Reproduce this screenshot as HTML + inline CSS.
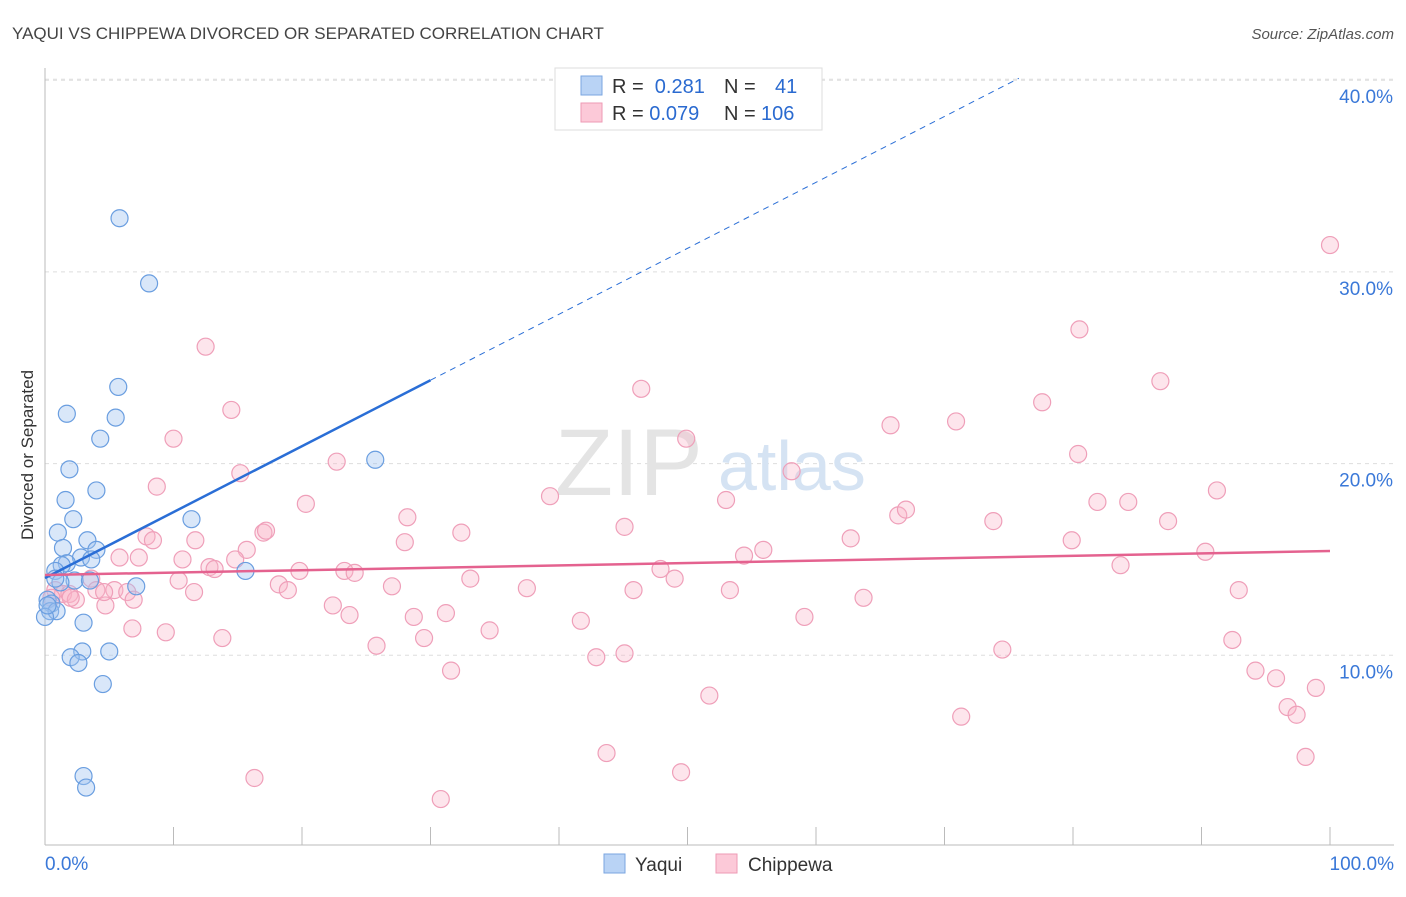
<!DOCTYPE html>
<html><head><meta charset="utf-8"><style>
body{margin:0;background:#fff;font-family:"Liberation Sans",sans-serif}
svg text{font-family:"Liberation Sans",sans-serif}
</style></head><body>
<svg id="c" width="1406" height="892">
<text x="12" y="39" font-size="17" fill="#444">YAQUI VS CHIPPEWA DIVORCED OR SEPARATED CORRELATION CHART</text>
<text x="1394" y="39" font-size="15" fill="#555" text-anchor="end" font-style="italic">Source: ZipAtlas.com</text>
<text transform="translate(33,455) rotate(-90)" font-size="17" fill="#333" text-anchor="middle">Divorced or Separated</text>
<g id="grid"></g>
<g id="axes"></g>
<text x="555" y="495" font-size="95" fill="#e4e4e4" font-family="Liberation Serif">ZIP</text>
<text x="718" y="490" font-size="70" fill="#d5e3f3">atlas</text>
<g id="pink"></g>
<g id="blue"></g>
<g id="lines"></g>
<g>
<rect x="555" y="68" width="267" height="62" fill="#fff" stroke="#ddd"/>
<rect x="581" y="76" width="21" height="19" fill="#b9d3f5" stroke="#7aa6e0"/>
<rect x="581" y="103" width="21" height="19" fill="#fcc9d8" stroke="#ee9ab4"/>
<text x="612" y="93" font-size="20" fill="#333">R = <tspan fill="#2a6ad0">&#160;0.281</tspan><tspan x="724">N = </tspan><tspan x="775" fill="#2a6ad0">41</tspan></text>
<text x="612" y="120" font-size="20" fill="#333">R = <tspan fill="#2a6ad0">0.079</tspan><tspan x="724">N = </tspan><tspan x="761" fill="#2a6ad0">106</tspan></text>
</g>
<g>
<rect x="604" y="854" width="21" height="19" fill="#b9d3f5" stroke="#7aa6e0"/>
<text x="635" y="871" font-size="19" fill="#333">Yaqui</text>
<rect x="716" y="854" width="21" height="19" fill="#fcc9d8" stroke="#ee9ab4"/>
<text x="748" y="871" font-size="19" fill="#333">Chippewa</text>
</g>
</svg>
<script>
const yTicks=[10,20,30,40];
const xTickLabels=["0.0%","100.0%"];
const yaquiX=[5.8,8.1,5.7,5.5,1.7,4.3,1.9,4.0,1.6,2.2,11.4,1.0,3.3,1.4,4.0,2.8,1.7,3.6,1.3,0.8,15.6,7.1,2.3,3.5,1.2,0.2,0.5,0.4,0.9,0.0,3.0,2.9,5.0,2.0,2.6,4.5,3.0,3.2,25.7,0.8,0.2];
const yaquiY=[32.8,29.4,24.0,22.4,22.6,21.3,19.7,18.6,18.1,17.1,17.1,16.4,16.0,15.6,15.5,15.1,14.8,15.0,14.7,14.4,14.4,13.6,13.9,13.9,13.8,12.9,12.7,12.3,12.3,12.0,11.7,10.2,10.2,9.9,9.6,8.5,3.7,3.1,20.2,14.0,12.6];
const chipX=[100,80.5,12.5,46.4,86.8,14.5,77.6,10.0,49.9,65.8,70.9,80.4,22.7,58.1,15.2,39.3,53.0,84.3,91.2,8.7,81.9,20.3,28.2,66.4,67.0,73.8,87.4,7.9,8.4,17.0,17.2,32.4,45.1,11.7,62.7,28.0,15.7,10.7,5.8,7.3,54.4,55.9,90.3,79.9,14.8,83.7,12.8,13.2,19.8,23.3,24.1,47.9,3.6,10.4,18.2,18.9,27.0,33.1,37.5,49.0,4.0,5.4,6.4,45.8,53.3,63.7,92.9,11.6,0.8,1.4,0.5,1.9,4.7,22.4,23.7,31.2,41.7,59.1,6.8,28.7,9.4,13.8,29.5,34.6,92.4,25.8,74.5,42.9,45.1,31.6,94.2,95.8,98.9,51.7,96.7,97.4,71.3,43.7,98.1,16.3,49.5,30.8,4.6,2.4,6.9,2.0];
const chipY=[31.4,27.0,26.1,23.9,24.3,22.8,23.2,21.3,21.3,22.0,22.2,20.5,20.1,19.6,19.5,18.3,18.1,18.0,18.6,18.8,18.0,17.9,17.2,17.3,17.6,17.0,17.0,16.2,16.0,16.4,16.5,16.4,16.7,16.0,16.1,15.9,15.5,15.0,15.1,15.1,15.2,15.5,15.4,16.0,15.0,14.7,14.6,14.5,14.4,14.4,14.3,14.5,14.0,13.9,13.7,13.4,13.6,14.0,13.5,14.0,13.4,13.4,13.3,13.4,13.4,13.0,13.4,13.3,13.4,13.2,13.0,13.2,12.6,12.6,12.1,12.2,11.8,12.0,11.4,12.0,11.2,10.9,10.9,11.3,10.8,10.5,10.3,9.9,10.1,9.2,9.2,8.8,8.3,7.9,7.3,6.9,6.8,4.9,4.7,3.6,3.9,2.5,13.3,12.9,12.9,13.0];
const trendYaqui=[14.03,0.344];
const trendChip=[14.19,0.0125];
const X=v=>45+v*12.85, Y=v=>847-v*19.17;
const NS="http://www.w3.org/2000/svg";
function mk(t,a,p){const e=document.createElementNS(NS,t);for(const k in a)e.setAttribute(k,a[k]);p.appendChild(e);return e;}
const grid=document.getElementById('grid'),axes=document.getElementById('axes');
mk('line',{x1:45,y1:Y(40)-1,x2:1394,y2:Y(40)-1,stroke:'#ddd','stroke-dasharray':'4,4'},grid);
yTicks.forEach(t=>{
 const l=mk('line',{x1:45,y1:Y(t),x2:1394,y2:Y(t),stroke:'#ddd','stroke-dasharray':'4,4'},grid);
 
 
 const tx=mk('text',{x:1393,y:Y(t)+23,'font-size':19,fill:'#3a78d8','text-anchor':'end'},axes);
 tx.textContent=t.toFixed(1)+'%';
 
 
});
mk('line',{x1:45,y1:68,x2:45,y2:845,stroke:'#bbb'},axes);
mk('line',{x1:45,y1:845,x2:1394,y2:845,stroke:'#bbb'},axes);
for(let i=0;i<=10;i++){const t=mk('line',{x1:X(i*10),y1:827,x2:X(i*10),y2:845,stroke:'#bbb'},axes);
 
 }
const t0=mk('text',{x:45,y:870,'font-size':19,fill:'#3a78d8'},axes);t0.textContent=xTickLabels[0];


const t1=mk('text',{x:1394,y:870,'font-size':19,fill:'#3a78d8','text-anchor':'end'},axes);t1.textContent=xTickLabels[1];


const pg=document.getElementById('pink');
chipX.forEach((x,i)=>{const c=mk('circle',{cx:X(x),cy:Y(chipY[i]),r:8.5,fill:'rgba(248,180,200,0.35)',stroke:'#ef9fb9','stroke-width':1.2},pg);
 
 });
const bg=document.getElementById('blue');
yaquiX.forEach((x,i)=>{const c=mk('circle',{cx:X(x),cy:Y(yaquiY[i]),r:8.5,fill:'rgba(160,196,240,0.4)',stroke:'#6a9ee0','stroke-width':1.2},bg);
 
 });
const lg=document.getElementById('lines');
const f=(t,x)=>t[0]+t[1]*x;
const l1=mk('line',{x1:X(0),y1:Y(f(trendYaqui,0)),x2:X(30),y2:Y(f(trendYaqui,30)),stroke:'#2a6ed6','stroke-width':2.5},lg);


const xe=(40.1-trendYaqui[0])/trendYaqui[1];
const l2=mk('line',{x1:X(30),y1:Y(f(trendYaqui,30)),x2:X(xe),y2:Y(f(trendYaqui,xe)),stroke:'#2a6ed6','stroke-width':1,'stroke-dasharray':'6,5'},lg);


const l3=mk('line',{x1:X(0),y1:Y(f(trendChip,0)),x2:X(100),y2:Y(f(trendChip,100)),stroke:'#e4628f','stroke-width':2.5},lg);


</script>
</body></html>
